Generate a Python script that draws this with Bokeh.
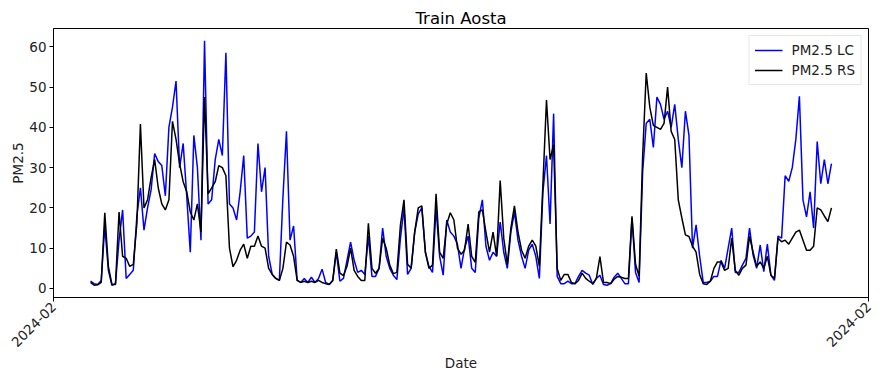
import math
import pandas as pd
from bokeh.plotting import figure
from bokeh.models import (ColumnDataSource, Range1d, FixedTicker, DatetimeTickFormatter,
                          Legend, LegendItem)
from bokeh.embed import file_html
from bokeh.resources import INLINE

# PM2.5 readings every 3 hours, Aosta training period
start_time = "2024-02-02 12:00"
step = "3h"

pm25_lc = [
    1.8, 1.2, 1.0, 2.0, 15.5, 4.5, 0.8, 1.2, 12.0, 19.5,
    2.5, 3.5, 4.5, 18.0, 25.0, 14.5, 20.0, 24.5, 33.5, 31.5,
    30.5, 23.0, 40.0, 45.0, 51.5, 30.0, 36.0, 23.0, 9.0, 38.0,
    30.0, 12.0, 61.5, 21.0, 22.0, 32.0, 37.0, 33.0, 58.5, 21.0,
    20.0, 17.0, 24.0, 33.0, 12.5, 13.0, 14.0, 36.0, 24.0, 30.0,
    8.0, 3.5, 2.5, 2.0, 22.5, 39.0, 12.0, 15.5, 2.0, 1.5,
    2.5, 1.5, 2.8, 1.5, 2.5, 4.8, 1.5, 1.0, 2.0, 9.0,
    1.8, 2.5, 7.0, 11.5, 7.0, 4.0, 4.5, 3.5, 13.0, 3.0,
    3.0, 5.0, 15.0, 8.0, 5.0, 3.3, 2.2, 12.5, 20.0, 3.5,
    5.0, 14.0, 18.5, 20.0, 9.0, 5.5, 4.0, 20.0, 8.0, 3.3,
    17.0, 14.0, 13.0, 11.0, 5.0, 10.0, 13.0, 5.0, 4.0, 17.5,
    22.0, 10.5, 7.0, 9.0, 8.0, 16.5, 9.0, 5.0, 14.0, 19.0,
    12.0, 8.0, 5.0, 9.5, 11.0, 8.0, 2.5, 24.0, 33.0, 16.0,
    43.4, 3.0, 1.2, 1.2, 1.8, 1.2, 1.2, 3.0, 4.5, 3.8,
    3.3, 1.0, 2.5, 3.3, 1.0, 0.8, 1.2, 2.8, 3.8, 2.5,
    1.2, 1.2, 17.5, 4.0, 1.5, 29.0, 41.0, 42.0, 35.0, 47.5,
    45.7, 42.0, 44.0, 40.0, 45.7, 37.0, 30.0, 44.0, 38.0, 10.0,
    15.8, 8.0, 1.5, 1.5, 1.8, 3.0, 3.0, 7.0, 5.0, 10.0,
    15.0, 4.0, 4.0, 5.8, 7.5, 15.0, 8.3, 5.0, 10.8, 4.2,
    11.0, 3.3, 2.0, 13.0, 12.5, 28.0, 26.6, 30.0, 37.0, 47.7,
    22.0, 17.8, 24.0, 15.0, 36.5, 26.0, 32.0, 26.0, 31.0,
]

pm25_rs = [
    1.5, 0.8, 0.9, 1.5, 18.8, 5.5, 1.0, 1.0, 19.0, 8.0,
    7.5, 5.5, 6.0, 16.0, 40.8, 20.0, 22.0, 27.5, 32.0, 25.0,
    21.0, 19.5, 22.0, 41.5, 37.0, 31.0, 26.5, 24.0, 19.0, 17.0,
    21.0, 14.0, 47.5, 23.5, 25.0, 26.5, 30.5, 30.0, 28.0, 10.0,
    5.4, 7.0, 9.5, 11.0, 7.5, 10.5, 10.5, 13.0, 10.5, 10.0,
    5.0, 3.5, 2.5, 2.0, 5.0, 11.5, 10.8, 8.0, 2.0, 1.5,
    1.8, 1.5, 1.8, 1.5, 2.0, 1.5, 1.2, 1.0, 2.0, 9.8,
    3.8, 3.2, 5.5, 10.0, 4.5, 3.0, 2.0, 2.0, 16.2, 5.0,
    3.8, 5.0, 12.5, 10.0, 5.8, 3.7, 4.0, 15.8, 22.0, 6.0,
    5.0, 14.0, 20.0, 20.5, 9.0, 5.0, 5.8, 23.5, 9.0, 7.5,
    16.0, 18.8, 17.0, 10.0, 8.5, 9.5, 16.0, 8.0, 6.5, 19.0,
    19.5, 14.0, 9.0, 14.0, 8.0, 26.8, 12.5, 6.0, 15.0, 20.5,
    14.0, 9.5, 7.5, 10.5, 12.0, 10.5, 5.5, 26.0, 46.8, 32.0,
    35.7, 5.0, 2.0, 3.5, 3.5, 1.5, 1.2, 2.0, 3.8, 2.5,
    1.8, 1.2, 2.5, 7.9, 1.5, 1.5, 1.2, 2.3, 3.0, 2.8,
    2.5, 2.5, 17.9, 6.0, 3.0, 33.0, 53.5, 45.0, 40.5, 40.0,
    39.5, 41.0, 50.0, 39.0, 37.0, 22.0, 17.5, 13.3, 12.9, 10.5,
    9.0, 3.5, 1.2, 1.0, 1.8, 5.0, 6.6, 6.6, 4.5, 5.0,
    12.5, 4.5, 3.3, 5.0, 5.8, 13.0, 9.0, 5.5, 6.6, 5.0,
    8.0, 3.3, 2.5, 12.5, 11.6, 12.0, 11.0, 12.5, 14.0, 14.5,
    12.0, 9.5, 9.5, 10.5, 20.0, 19.5, 18.0, 16.6, 20.0,
]

y_ticks = [0, 10, 20, 30, 40, 50, 60]
month_label = "%Y-%m"

times = pd.date_range(start=start_time, periods=len(pm25_lc), freq=step)
source = ColumnDataSource(data=dict(t=times, lc=pm25_lc, rs=pm25_rs))

# matplotlib-like 5% margins around the data
t0 = times[0].value / 1e6
t1 = times[-1].value / 1e6
xpad = 0.05 * (t1 - t0)
ymin = min(min(pm25_lc), min(pm25_rs))
ymax = max(max(pm25_lc), max(pm25_rs))
ypad = 0.05 * (ymax - ymin)

p = figure(width=889, height=374, x_axis_type="datetime",
           output_backend="svg", toolbar_location=None,
           x_range=Range1d(t0 - xpad, t1 + xpad),
           y_range=Range1d(ymin - ypad, ymax + ypad),
           min_border_left=53, min_border_right=21,
           min_border_top=28, min_border_bottom=76)

font = "DejaVu Sans"

p.title.text = "Train Aosta"
p.title.align = "center"
p.title.text_font = font
p.title.text_font_size = "16.5px"
p.title.text_font_style = "normal"
p.title.text_color = "black"
p.title.standoff = 2

r_lc = p.line("t", "lc", source=source, line_color="#0000ff", line_width=1.5)
r_rs = p.line("t", "rs", source=source, line_color="black", line_width=1.5)

p.xgrid.visible = False
p.ygrid.visible = False
p.outline_line_color = "black"
p.outline_line_width = 1
p.background_fill_color = "white"
p.border_fill_color = "white"

# one month tick at each end of the time axis
p.xaxis.ticker = FixedTicker(ticks=[t0 - xpad + 1, t1 + xpad - 1])
p.xaxis.formatter = DatetimeTickFormatter(
    microseconds=month_label, milliseconds=month_label, seconds=month_label,
    minsec=month_label, minutes=month_label, hourmin=month_label,
    hours=month_label, days=month_label, months=month_label, years=month_label)
p.xaxis.major_label_orientation = math.pi / 4
p.yaxis.ticker = FixedTicker(ticks=y_ticks)

for ax in (p.xaxis, p.yaxis):
    ax.axis_line_color = "black"
    ax.major_tick_line_color = "black"
    ax.major_tick_in = 0
    ax.major_tick_out = 4
    ax.minor_tick_line_color = None
    ax.major_label_text_font = font
    ax.major_label_text_font_size = "13.5px"
    ax.major_label_text_color = "#222222"
    ax.major_label_standoff = 3
    ax.axis_label_text_font = font
    ax.axis_label_text_font_size = "13.5px"
    ax.axis_label_text_font_style = "normal"
    ax.axis_label_text_color = "#222222"

p.yaxis.axis_label_standoff = 0
p.xaxis.axis_label_standoff = 1

p.xaxis.axis_label = "Date"
p.yaxis.axis_label = "PM2.5"

legend = Legend(items=[LegendItem(label="PM2.5 LC", renderers=[r_lc]),
                       LegendItem(label="PM2.5 RS", renderers=[r_rs])],
                location="top_right")
legend.label_text_font = font
legend.label_text_font_size = "13.5px"
legend.label_text_color = "#222222"
legend.glyph_width = 28
legend.glyph_height = 18
legend.label_height = 18
legend.label_standoff = 9
legend.padding = 5
legend.spacing = 2
legend.margin = 7
legend.border_line_color = "#cccccc"
legend.border_line_width = 1
legend.background_fill_alpha = 0.8
p.add_layout(legend)

open("out.html", "w").write(file_html(p, INLINE))
